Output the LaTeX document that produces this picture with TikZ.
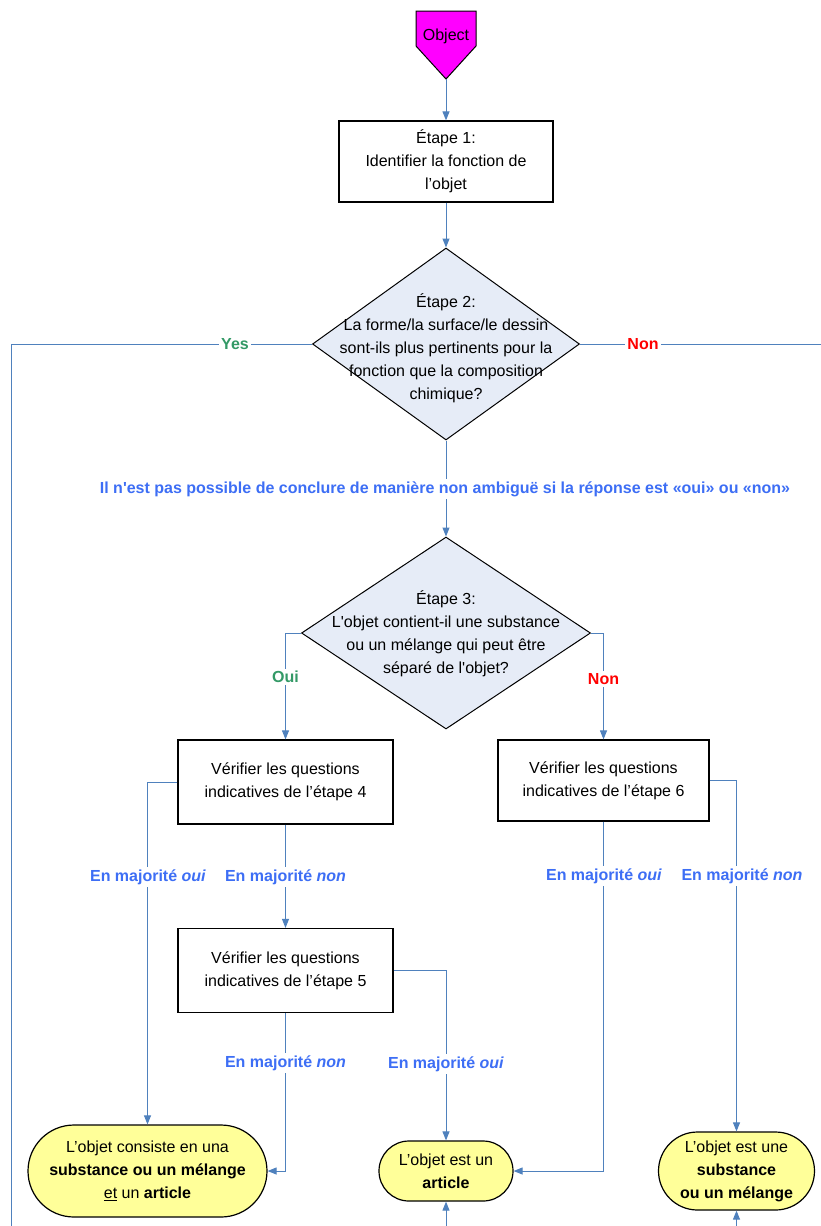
\documentclass[tikz,border=0pt]{standalone}
\usepackage{fontspec}
\setmainfont{Liberation Sans}
\usetikzlibrary{shapes.geometric,arrows.meta}
\definecolor{lineblue}{HTML}{4F81BD}
\definecolor{lblblue}{HTML}{3D6EF5}
\definecolor{yesgreen}{HTML}{339966}
\definecolor{nonred}{HTML}{FF0000}
\definecolor{diafill}{HTML}{E6ECF7}
\definecolor{termfill}{HTML}{FFFF99}
\definecolor{objfill}{HTML}{FF00FF}
\begin{document}
\begin{tikzpicture}[x=1pt,y=-1pt,
  txt/.style={font=\fontsize{16}{23}\selectfont, align=center},
  stepbox/.style={draw, line width=1.2pt, rectangle, fill=white, inner sep=0pt},
  dia/.style={draw, diamond, fill=diafill, line width=1pt, inner sep=0pt},
  term/.style={draw, line width=1.2pt, rectangle, fill=termfill, inner sep=0pt},
  conn/.style={draw=lineblue, line width=1pt, -{Triangle[length=9pt,width=7pt]}},
  plain/.style={draw=lineblue, line width=1pt},
  lbl/.style={font=\fontsize{16}{19}\selectfont\bfseries, text=lblblue, fill=white, inner sep=2pt},
  yn/.style={font=\fontsize{16}{19}\selectfont\bfseries, fill=white, inner sep=2pt}
]
\useasboundingbox (0,0) rectangle (821,1226);
% Object
\draw[fill=objfill, line width=1pt] (416,11) -- (476,11) -- (476,46) -- (446,79) -- (416,46) -- cycle;
\node[txt] (obj) at (446,36) {Object};
\coordinate (objtip) at (446,79);
% Step 1
\node[stepbox, minimum width=214pt, minimum height=81pt] (s1) at (446,161.5) {};
\node[txt] at (s1) {Étape 1:\\Identifier la fonction de\\l’objet};
% Diamond 1
\node[dia, minimum width=267pt, minimum height=192pt] (d1) at (446,344) {};
\node[txt] at (446,348) {Étape 2:\\La forme/la surface/le dessin\\sont-ils plus pertinents pour la\\fonction que la composition\\chimique?};
% Diamond 2
\node[dia, minimum width=289pt, minimum height=192pt] (d2) at (446,633) {};
\node[txt] at (446,634) {Étape 3:\\L\textquotesingle objet contient-il une substance\\ou un mélange qui peut être\\séparé de l\textquotesingle objet?};
% Boxes 4,5,6
\node[stepbox, minimum width=215pt, minimum height=84pt] (s4) at (285.5,782) {};
\node[txt] at (s4) {Vérifier les questions\\indicatives de l’étape 4};
\node[stepbox, minimum width=215pt, minimum height=84pt] (s5) at (285.5,970.5) {};
\node[txt] at (s5) {Vérifier les questions\\indicatives de l’étape 5};
\node[stepbox, minimum width=211pt, minimum height=81pt] (s6) at (603.5,780.5) {};
\node[txt] at (s6) {Vérifier les questions\\indicatives de l’étape 6};
% Terminals
\node[term, rounded corners=46pt, minimum width=239pt, minimum height=92pt] (t1) at (147.5,1171) {};
\node[txt] at (t1) {L’objet consiste en una\\\textbf{substance ou un mélange}\\\underline{et} un \textbf{article}};
\node[term, rounded corners=30pt, minimum width=134pt, minimum height=60pt] (t2) at (446,1171) {};
\node[txt] at (t2) {L’objet est un\\\textbf{article}};
\node[term, rounded corners=39pt, minimum width=156pt, minimum height=78pt] (t3) at (736.5,1171) {};
\node[txt] at (t3) {L’objet est une\\\textbf{substance}\\\textbf{ou un mélange}};
% helper coordinates
\coordinate (yesend) at (11,1226);
\coordinate (nonend) at (821,344);
\coordinate (botA) at (446,1226);
\coordinate (botB) at (736.5,1226);
% connectors
\draw[conn] (objtip) -- (s1.north);
\draw[conn] (s1.south) -- (d1.north);
\draw[plain] (d1.west) -| (yesend);
\draw[plain] (d1.east) -- (nonend);
\draw[conn] (d1.south) -- (d2.north);
\draw[conn] (d2.west) -| (s4.north);
\draw[conn] (d2.east) -| (s6.north);
\draw[conn] (s4.west) -| (t1.north);
\draw[conn] (s4.south) -- (s5.north);
\draw[conn] (s5.east) -| (t2.north);
\draw[conn] (s5.south) |- (t1.east);
\draw[conn] (s6.south) |- (t2.east);
\draw[conn] (s6.east) -| (t3.north);
\draw[conn] (botA) -- (t2.south);
\draw[conn] (botB) -- (t3.south);
% labels
\node[yn, text=yesgreen] at (235,344) {Yes};
\node[yn, text=nonred] at (643,344) {Non};
\node[lbl] at (445,489) {Il n\textquotesingle est pas possible de conclure de manière non ambiguë si la réponse est «oui» ou «non»};
\node[yn, text=yesgreen] at (285.5,677) {Oui};
\node[yn, text=nonred] at (603.5,679) {Non};
\node[lbl] at (148,877) {En majorité \textit{oui}};
\node[lbl] at (285.5,877) {En majorité \textit{non}};
\node[lbl] at (604,876) {En majorité \textit{oui}};
\node[lbl] at (742,876) {En majorité \textit{non}};
\node[lbl] at (285.5,1063) {En majorité \textit{non}};
\node[lbl] at (446,1064) {En majorité \textit{oui}};
\end{tikzpicture}
\end{document}
